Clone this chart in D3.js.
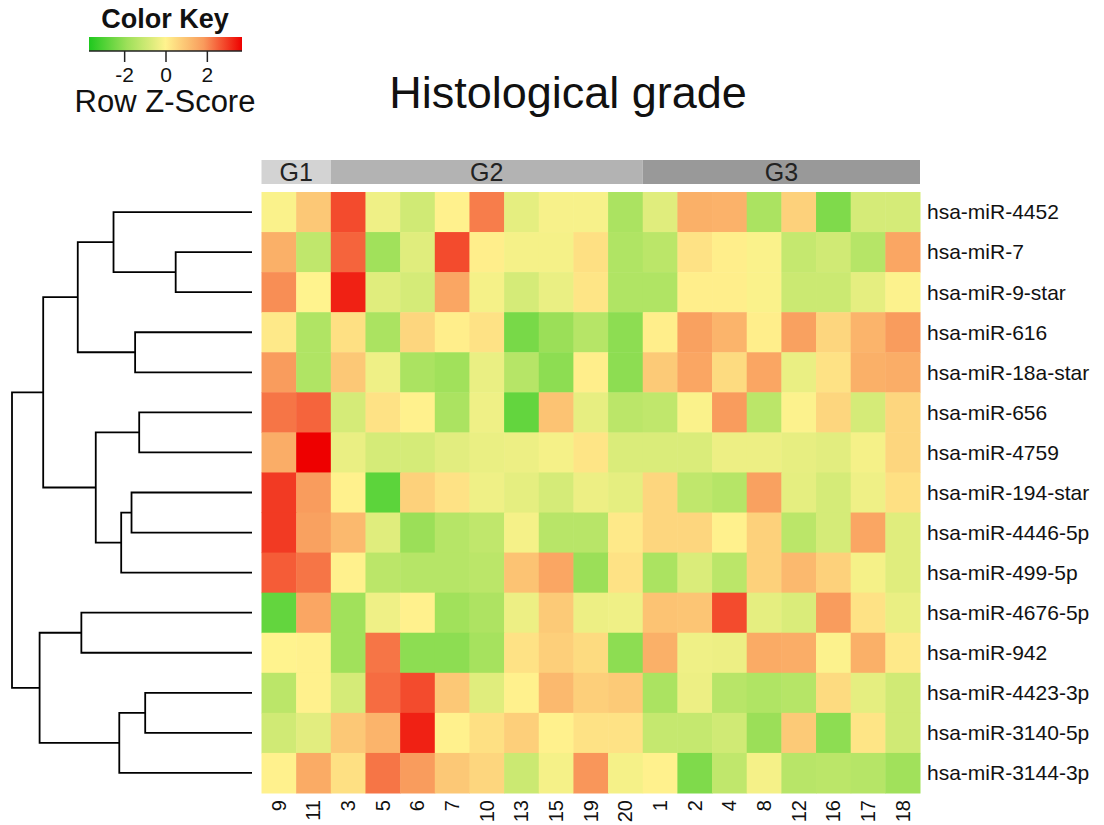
<!DOCTYPE html>
<html>
<head>
<meta charset="utf-8">
<script src="https://cdn.jsdelivr.net/npm/d3@7"></script>
<style>
  body { margin: 0; background: #fff; }
  text { font-family: "Liberation Sans", Arial, sans-serif; }
</style>
</head>
<body>
<div id="chart"></div>
<script>
// row / column order as drawn (after clustering)
const rowLabels = ['hsa-miR-4452', 'hsa-miR-7', 'hsa-miR-9-star', 'hsa-miR-616', 'hsa-miR-18a-star',
  'hsa-miR-656', 'hsa-miR-4759', 'hsa-miR-194-star', 'hsa-miR-4446-5p', 'hsa-miR-499-5p',
  'hsa-miR-4676-5p', 'hsa-miR-942', 'hsa-miR-4423-3p', 'hsa-miR-3140-5p', 'hsa-miR-3144-3p'];
const colLabels = ['9', '11', '3', '5', '6', '7', '10', '13', '15', '19', '20', '1', '2', '4', '8', '12', '16', '17', '18'];
const groupNames = ['G1', 'G2', 'G3'];
const groupSizes = [2, 9, 8];
const groupColors = ['#d3d3d3', '#b3b3b3', '#999999'];

// row z-scores, one array per row, columns in colLabels order
const z4452 = [-0.1, 0.9, 2.8, -0.3, -0.9, 0.05, 2.2, -0.5, -0.15, -0.15, -1.6, -0.6, 1.4, 1.35, -1.6, 0.7, -2.3, -0.8, -0.8];
const z7 = [1.4, -1.2, 2.5, -1.8, -0.6, 2.8, 0.1, -0.2, -0.2, 0.4, -1.5, -1.3, 0.35, 0.1, -0.1, -1.1, -0.9, -1.4, 1.6];
const z9star = [2.0, 0.0, 3.3, -0.6, -0.8, 1.6, -0.2, -0.8, -0.4, 0.3, -1.5, -1.5, 0.1, 0.1, -0.1, -1.0, -1.0, -0.5, -0.05];
const z616 = [0.2, -1.5, 0.4, -1.6, 0.6, 0.1, 0.35, -2.4, -1.9, -1.4, -2.1, 0.1, 1.7, 1.3, 0.1, 1.7, 0.6, 1.3, 1.8];
const z18astar = [1.8, -1.5, 0.9, -0.3, -1.6, -1.8, -0.4, -1.4, -2.1, 0.1, -2.1, 0.85, 1.6, 0.5, 1.6, -0.4, 0.35, 1.4, 1.45];
const z656 = [2.3, 2.5, -0.8, 0.35, 0.05, -1.6, -0.3, -2.7, 1.0, -0.45, -1.3, -1.2, -0.1, 1.8, -1.3, -0.05, 0.6, -0.8, 0.6];
const z4759 = [1.45, 3.7, -0.4, -0.8, -0.8, -0.55, -0.4, -0.35, -0.2, 0.3, -0.7, -0.7, -0.7, -0.35, -0.35, -0.45, -0.55, -0.2, 0.6];
const z194star = [3.0, 1.8, 0.05, -2.8, 0.7, 0.35, -0.3, -0.5, -0.8, -0.35, -0.5, 0.6, -1.2, -1.4, 1.7, -0.5, -0.8, -0.3, 0.4];
const z4446 = [3.0, 1.7, 1.2, -0.6, -1.9, -1.4, -1.2, -0.2, -1.35, -1.35, 0.2, 0.6, 0.6, 0.05, 0.7, -1.3, -0.8, 1.6, -0.6];
const z499 = [2.6, 2.3, 0.05, -1.3, -1.4, -1.4, -1.3, 1.0, 1.6, -1.9, 0.35, -1.6, -0.7, -1.3, 0.7, 1.2, 0.7, -0.2, -0.6];
const z4676 = [-2.7, 1.6, -1.8, -0.3, 0.05, -1.8, -1.55, -0.35, 0.85, -0.35, -0.3, 1.0, 0.95, 2.8, -0.5, -0.7, 1.8, 0.35, -0.4];
const z942 = [0.0, 0.05, -1.8, 2.3, -2.1, -2.1, -1.7, 0.35, 0.75, 0.5, -2.1, 1.4, -0.3, -0.35, 1.5, 1.45, -0.05, 1.4, 0.2];
const z4423 = [-1.3, 0.05, -0.8, 2.4, 2.8, 0.9, -0.6, 0.05, 1.2, 0.75, 0.85, -1.6, -0.35, -1.35, -1.5, -1.4, 0.5, -0.5, -0.9];
const z3140 = [-0.9, -0.55, 0.9, 1.3, 3.3, 0.05, 0.4, 0.75, 0.05, 0.35, 0.35, -1.1, -1.1, -0.9, -1.9, 0.85, -2.1, 0.3, -0.9];
const z3144 = [0.05, 1.5, 0.4, 2.3, 1.8, 0.9, 0.6, -1.0, -0.2, 1.9, -0.2, 0.05, -2.3, -1.2, -0.2, -1.35, -1.3, -1.4, -1.8];
const zRows = [z4452, z7, z9star, z616, z18astar, z656, z4759, z194star, z4446, z499, z4676, z942, z4423, z3140, z3144];

// row dendrogram: [left, right, height]; Ln = leaf row n, Mn = earlier merge n
const merges = [
  ['L1', 'L2', 3.18], ['L0', 'M0', 5.77], ['L3', 'L4', 4.87], ['M1', 'M2', 7.26],
  ['L5', 'L6', 4.70], ['L7', 'L8', 5.02], ['M5', 'L9', 5.45], ['M4', 'M6', 6.51],
  ['M3', 'M7', 8.70], ['L10', 'L11', 7.11], ['L12', 'L13', 4.45], ['M10', 'L14', 5.53],
  ['M9', 'M11', 8.85], ['M8', 'M12', 10]
];

const keyTicks = [-2, 0, 2];
const zMax = 3.7;

const W = 1104, H = 825;
const hm = { left: 261.5, right: 920, top: 192, bottom: 793 };

const svg = d3.select('#chart').append('svg')
  .attr('width', W).attr('height', H);

const x = d3.scaleBand().domain(colLabels).range([hm.left, hm.right]);
const y = d3.scaleBand().domain(rowLabels).range([hm.top, hm.bottom]);
const color = d3.scaleLinear()
  .domain([-zMax, -zMax / 2, 0, zMax / 2, zMax])
  .range(['#1ec81e', '#9ee05a', '#fff38e', '#f99a5c', '#ee0000'])
  .clamp(true);

// cells
const cells = [];
zRows.forEach((r, i) => r.forEach((v, j) => cells.push({ row: rowLabels[i], col: colLabels[j], v: v })));
svg.append('g').selectAll('rect')
  .data(cells)
  .enter()
  .append('rect')
  .attr('x', d => x(d.col))
  .attr('y', d => y(d.row))
  .attr('width', x.bandwidth() + 0.5)
  .attr('height', y.bandwidth() + 0.5)
  .attr('fill', d => color(d.v));

// row labels
svg.append('g').selectAll('text')
  .data(rowLabels)
  .enter()
  .append('text')
  .attr('x', hm.right + 7)
  .attr('y', d => y(d) + y.bandwidth() / 2)
  .attr('dy', '0.35em')
  .style('font-size', '21px')
  .style('fill', '#111')
  .text(d => d);

// column labels (rotated)
svg.append('g').selectAll('text')
  .data(colLabels)
  .enter()
  .append('text')
  .attr('transform', d => 'translate(' + (x(d) + x.bandwidth() / 2) + ',' + (hm.bottom + 7) + ') rotate(-90)')
  .attr('text-anchor', 'end')
  .attr('dy', '0.35em')
  .style('font-size', '20px')
  .style('fill', '#111')
  .text(d => d);

// group side bar
let start = 0;
const groupCols = groupSizes.map((n, i) => {
  const g = { name: groupNames[i], color: groupColors[i], first: colLabels[start], last: colLabels[start + n - 1] };
  start += n;
  return g;
});
const gb = svg.append('g');
gb.selectAll('rect')
  .data(groupCols)
  .enter()
  .append('rect')
  .attr('x', d => x(d.first))
  .attr('y', 160)
  .attr('width', d => x(d.last) + x.bandwidth() - x(d.first))
  .attr('height', 24)
  .attr('fill', d => d.color);
gb.selectAll('text')
  .data(groupCols)
  .enter()
  .append('text')
  .attr('x', d => (x(d.first) + x(d.last) + x.bandwidth()) / 2)
  .attr('y', 172)
  .attr('dy', '0.36em')
  .attr('text-anchor', 'middle')
  .style('font-size', '25px')
  .style('fill', '#222')
  .text(d => d.name);

// dendrogram
const dx = d3.scaleLinear().domain([0, 10]).range([252, 12]);
const nodes = [];
const pos = id => {
  if (id[0] === 'L') {
    const i = +id.slice(1);
    return { y: y(rowLabels[i]) + y.bandwidth() / 2, h: 0 };
  }
  return nodes[+id.slice(1)];
};
const dendro = svg.append('g')
  .attr('fill', 'none')
  .attr('stroke', '#000')
  .attr('stroke-width', 1.8);
merges.forEach(m => {
  const a = pos(m[0]), b = pos(m[1]), h = m[2];
  nodes.push({ y: (a.y + b.y) / 2, h: h });
  const path = d3.path();
  path.moveTo(dx(a.h), a.y);
  path.lineTo(dx(h), a.y);
  path.lineTo(dx(h), b.y);
  path.lineTo(dx(b.h), b.y);
  dendro.append('path').attr('d', path.toString());
});

// title
svg.append('text')
  .attr('x', 568)
  .attr('y', 108)
  .attr('text-anchor', 'middle')
  .style('font-size', '45px')
  .style('fill', '#111')
  .text('Histological grade');

// colour key
const key = svg.append('g');
const kx = d3.scaleLinear().domain([-zMax, zMax]).range([89, 242]);
const grad = svg.append('defs').append('linearGradient')
  .attr('id', 'keygrad');
d3.range(0, 1.0001, 0.05).forEach(t => {
  grad.append('stop')
    .attr('offset', t)
    .attr('stop-color', color(-zMax + 2 * zMax * t));
});
key.append('rect')
  .attr('x', kx(-zMax))
  .attr('y', 37)
  .attr('width', kx(zMax) - kx(-zMax))
  .attr('height', 14)
  .attr('fill', 'url(#keygrad)');
key.append('line')
  .attr('x1', kx(-zMax)).attr('x2', kx(zMax))
  .attr('y1', 51).attr('y2', 51)
  .attr('stroke', '#222').attr('stroke-width', 1.5);
const keyAxis = d3.axisBottom(kx).tickValues(keyTicks).tickSize(11).tickFormat(d => String(d));
key.append('g')
  .attr('transform', 'translate(0,51)')
  .call(keyAxis)
  .call(g => g.select('.domain').remove())
  .call(g => g.selectAll('.tick line').attr('stroke', '#222').attr('stroke-width', 1.5))
  .call(g => g.selectAll('.tick text')
    .attr('y', 16)
    .style('font-family', '"Liberation Sans", Arial, sans-serif')
    .style('font-size', '21px')
    .style('fill', '#111'));
key.append('text')
  .attr('x', 165)
  .attr('y', 28)
  .attr('text-anchor', 'middle')
  .style('font-size', '27px')
  .style('font-weight', 'bold')
  .style('fill', '#111')
  .text('Color Key');
key.append('text')
  .attr('x', 165)
  .attr('y', 112)
  .attr('text-anchor', 'middle')
  .style('font-size', '31px')
  .style('fill', '#111')
  .text('Row Z-Score');
</script>
</body>
</html>
